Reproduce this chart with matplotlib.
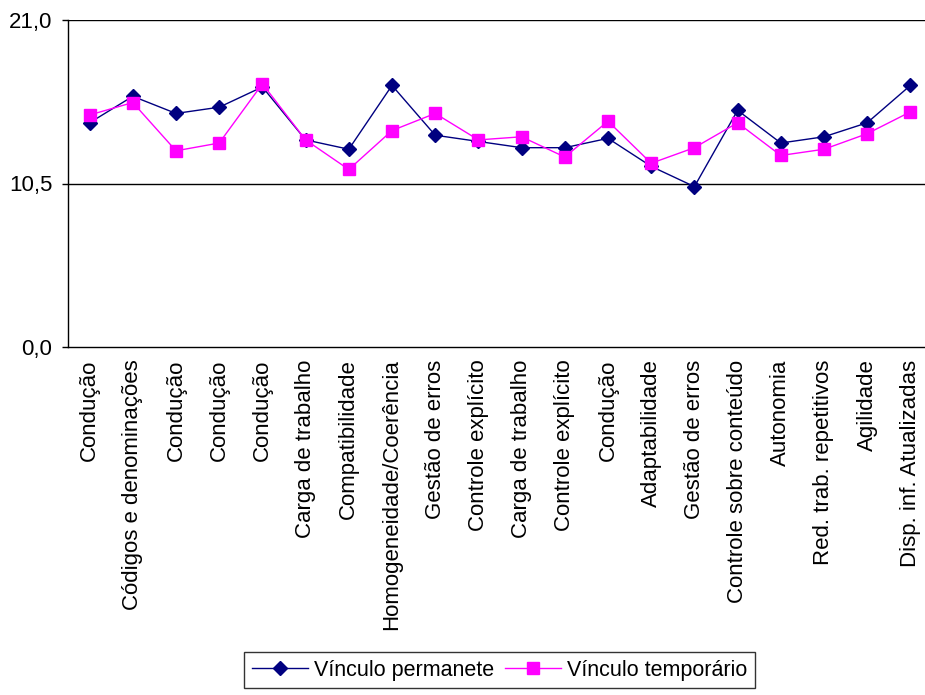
import numpy as np
import matplotlib.pyplot as plt
from matplotlib.ticker import FixedLocator

plt.rcParams['font.family'] = ['Liberation Sans', 'DejaVu Sans']

# Categories along the x axis
categorias = [
    'Condução', 'Códigos e denominações', 'Condução', 'Condução', 'Condução',
    'Carga de trabalho', 'Compatibilidade', 'Homogeneidade/Coerência',
    'Gestão de erros', 'Controle explícito', 'Carga de trabalho',
    'Controle explícito', 'Condução', 'Adaptabilidade', 'Gestão de erros',
    'Controle sobre conteúdo', 'Autonomia', 'Red. trab. repetitivos',
    'Agilidade', 'Disp. inf. Atualizadas',
]

# Mean scores per category for each employment type
permanente = [14.4, 16.1, 15.0, 15.4, 16.7, 13.3, 12.7, 16.8, 13.6, 13.2,
              12.8, 12.8, 13.4, 11.6, 10.3, 15.2, 13.1, 13.5, 14.4, 16.8]
temporario = [14.9, 15.7, 12.6, 13.1, 16.9, 13.3, 11.4, 13.9, 15.0, 13.3,
              13.5, 12.2, 14.5, 11.8, 12.8, 14.4, 12.3, 12.7, 13.7, 15.1]

y_ticks = [0.0, 10.5, 21.0]
y_tick_labels = ['0,0', '10,5', '21,0']

fig = plt.figure(figsize=(9.25, 6.95), dpi=100)
ax = fig.add_axes([68 / 925, 1 - 347 / 695, 864 / 925, 327 / 695])

x = np.arange(len(categorias))
ax.plot(x, permanente, color='#000080', lw=1.0, marker='D', ms=7.5,
        label='Vínculo permanete', zorder=3)
ax.plot(x, temporario, color='#FF00FF', lw=1.0, marker='s', ms=8.5,
        label='Vínculo temporário', zorder=3)

ax.set_xlim(-0.5, len(categorias) - 0.5)
ax.set_ylim(0, 21)
ax.yaxis.set_major_locator(FixedLocator(y_ticks))
ax.set_yticklabels(y_tick_labels, fontsize=16)
ax.set_xticks(x)
ax.set_xticklabels(categorias, rotation=90, fontsize=16)
ax.tick_params(axis='x', length=0, pad=9)
ax.tick_params(axis='y', length=4.3, width=1, pad=7)

for v in y_ticks[1:]:
    ax.axhline(v, color='black', lw=1.0, zorder=1)

for s in ['top', 'right']:
    ax.spines[s].set_visible(False)
ax.spines['left'].set_linewidth(1.0)
ax.spines['bottom'].set_linewidth(1.0)

leg = fig.legend(loc='upper left', bbox_to_anchor=(244 / 925, 1 - 652 / 695),
                 ncol=2, fontsize=15.5, frameon=True, fancybox=False,
                 edgecolor='black', borderpad=0.35, columnspacing=0.5,
                 handlelength=2.6, handletextpad=0.3, borderaxespad=0)
leg.get_frame().set_linewidth(1.0)

fig.savefig('out.png', dpi=100)
